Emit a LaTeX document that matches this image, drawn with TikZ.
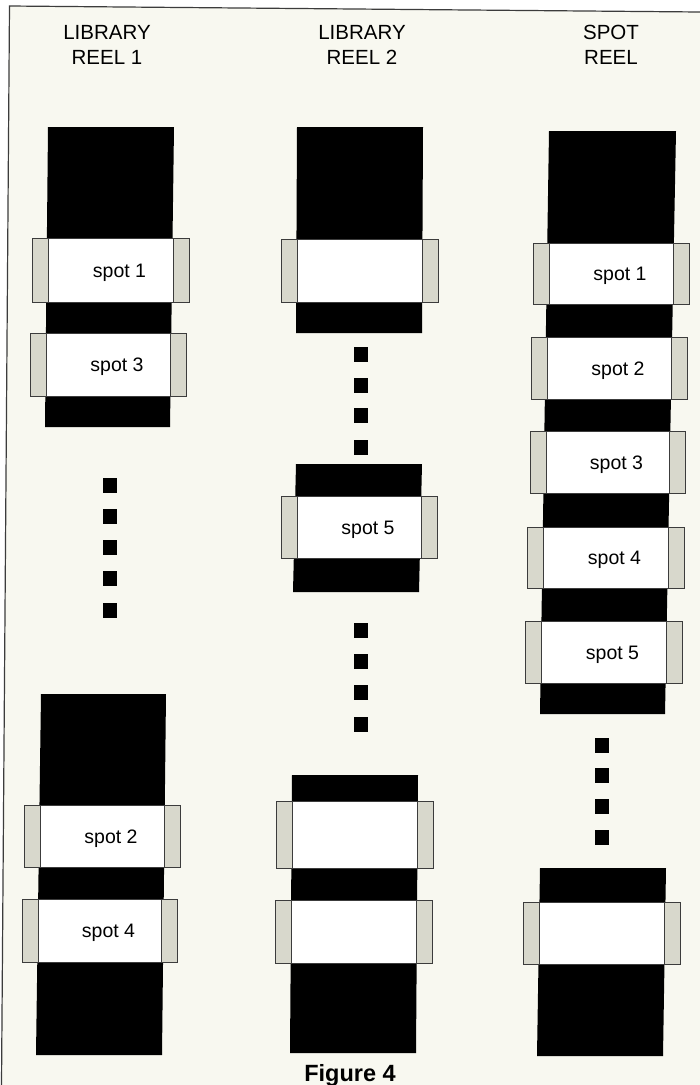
\documentclass[tikz,border=0pt]{standalone}
\usepackage{fontspec}
\setmainfont{Liberation Sans}
\definecolor{paper}{RGB}{248,248,240}
\definecolor{tabgray}{RGB}{216,216,204}
\definecolor{edge}{RGB}{60,60,60}

\newcommand{\spotband}[4]{%
  \draw[tab] ({#1-16},#3) rectangle (#1,#4);
  \draw[tab] (#2,#3) rectangle ({#2+16},#4);
  \draw[band] (#1,#3) rectangle (#2,#4);}

\begin{document}
\begin{tikzpicture}[x=1pt, y=-1pt,
    reel/.style={fill=black},
    band/.style={draw=edge, line width=0.8pt, fill=white},
    tab/.style={draw=edge, line width=0.8pt, fill=tabgray},
    dot/.style={fill=black, minimum width=14pt, minimum height=15pt, inner sep=0pt},
    head/.style={align=center, inner sep=0pt, font=\fontsize{20.5}{25}\selectfont},
    spottext/.style={anchor=base, inner sep=0pt, font=\fontsize{19.5}{22}\selectfont}]
    \useasboundingbox (0,0) rectangle (700,1085);
    \fill[white] (0,0) rectangle (700,1085);
    \fill[paper] (9.5,6) -- (700,12) -- (700,1085) -- (1.5,1085) -- cycle;
    \draw[edge, line width=1.2pt] (1.5,1085) -- (9.5,6) -- (700,12);

    \node[head, anchor=north] (headA) at (107,25) {LIBRARY\\REEL 1};
    \node[head, anchor=north] (headB) at (362,25) {LIBRARY\\REEL 2};
    \node[head, anchor=north] (headC) at (611,25) {SPOT\\REEL};

    % library reel 1
    \fill[reel] (48,127) -- (174,127) -- (170,427) -- (45,427) -- cycle;
    \spotband{48}{173}{238}{302}
    \spotband{46}{170}{333}{396}
    \node[spottext] (a1) at (119.5,277) {spot 1};
    \node[spottext] (a3) at (117,371.5) {spot 3};
    \foreach \y [count=\i] in {485,516,547,578,610}
        \node[dot] (da\i) at (110,\y) {};
    \fill[reel] (41,694) -- (166,694) -- (162,1055) -- (36,1055) -- cycle;
    \spotband{40}{164}{805}{867}
    \spotband{38}{161}{899}{962}
    \node[spottext] (a2) at (111,843) {spot 2};
    \node[spottext] (a4) at (108.5,937.5) {spot 4};

    % library reel 2
    \fill[reel] (297,127) -- (423,127) -- (422,333) -- (296,333) -- cycle;
    \spotband{297}{422}{239}{302}
    \foreach \y [count=\i] in {354,385,415,447}
        \node[dot] (db\i) at (361,\y) {};
    \fill[reel] (296,464) -- (422,464) -- (419,592) -- (293,592) -- cycle;
    \spotband{297}{421}{496}{558}
    \node[spottext] (b5) at (368,534) {spot 5};
    \foreach \y [count=\i] in {630,661,692,724}
        \node[dot] (dc\i) at (361,\y) {};
    \fill[reel] (292,775) -- (418,775) -- (416,1053) -- (290,1053) -- cycle;
    \spotband{292}{417}{801}{868}
    \spotband{291}{416}{900}{963}

    % spot reel
    \fill[reel] (549,131) -- (676,131) -- (665,714) -- (540,714) -- cycle;
    \foreach \xl/\xr/\yt/\yb/\n in {549/673/243/304/1, 547/671/337/399/2,
        546/669/431/493/3, 543/668/527/588/4, 541/666/621/683/5} {
        \spotband{\xl}{\xr}{\yt}{\yb}
        \node[spottext] (c\n) at ({(\xl+\xr)/2+9},{(\yt+\yb)/2+7}) {spot \n};
    }
    \foreach \y [count=\i] in {745,775,806,837}
        \node[dot] (dd\i) at (602,\y) {};
    \fill[reel] (540,868) -- (666,868) -- (663,1056) -- (537,1056) -- cycle;
    \spotband{539}{664}{902}{964}

    \node[anchor=base, inner sep=0pt, font=\fontsize{23.5}{28}\selectfont\bfseries] (fig) at (350,1081) {Figure 4};
\end{tikzpicture}
\end{document}
